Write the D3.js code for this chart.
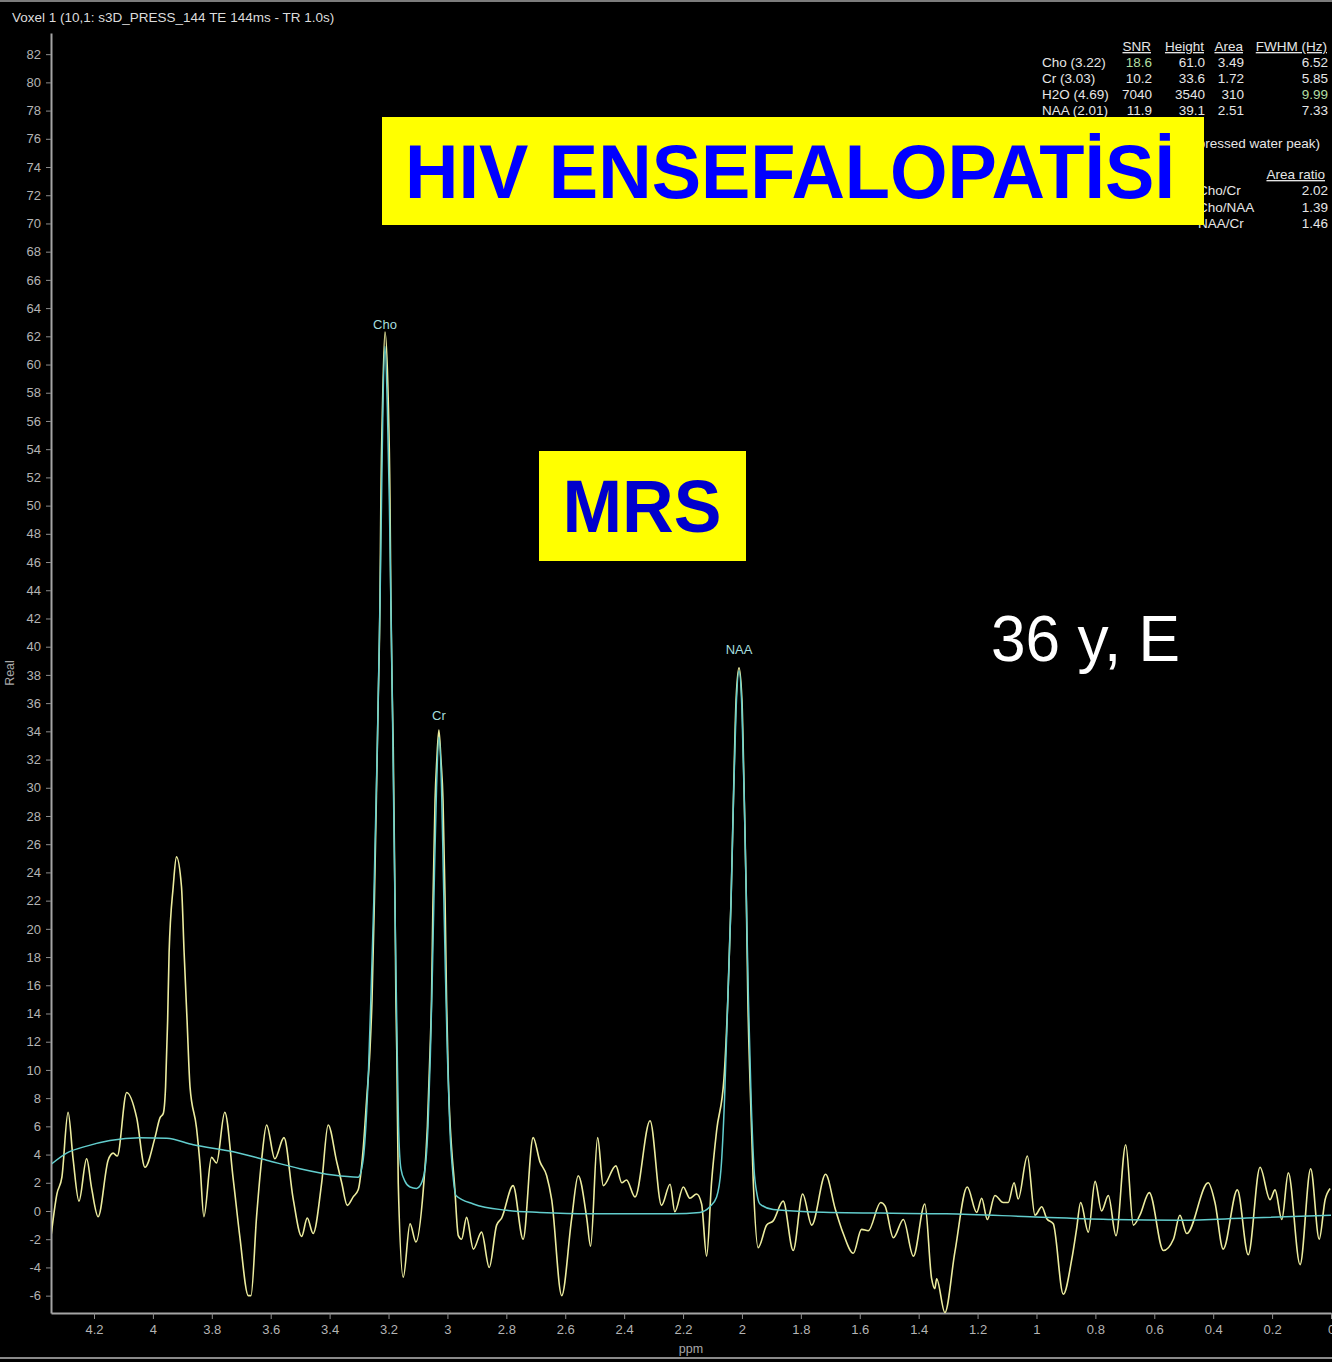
<!DOCTYPE html>
<html>
<head>
<meta charset="utf-8">
<title>HIV ENSEFALOPATİSİ - MRS</title>
<script src="https://cdn.jsdelivr.net/npm/d3@7"></script>
<style>
  html, body { margin: 0; padding: 0; background: #000; }
  svg { display: block; }
</style>
</head>
<body>
<svg id="chart" width="1332" height="1362"></svg>
<script>
// ---- Spectrum data (ppm, real amplitude) ----
const titleText = "Voxel 1 (10,1: s3D_PRESS_144 TE 144ms - TR 1.0s)";

// Acquired spectrum (real part)
const rawSignal = [
  [4.346,-1.8],[4.326,1.2],[4.309,2.4],[4.288,7.0],[4.271,3.7],[4.251,0.7],[4.225,3.7],[4.208,1.6],
  [4.186,-0.4],[4.152,3.6],[4.135,4.1],[4.121,3.9],[4.089,8.4],[4.055,6.6],[4.027,3.1],[3.993,5.2],
  [3.976,6.6],[3.965,6.9],[3.957,8.8],[3.950,13.5],[3.945,18.3],[3.931,23.0],[3.920,25.1],[3.903,23.0],
  [3.894,18.3],[3.884,13.5],[3.874,8.8],[3.852,5.9],[3.840,3.3],[3.827,-0.4],[3.801,3.8],[3.784,3.4],
  [3.756,7.0],[3.727,2.2],[3.705,-1.8],[3.676,-6.0],[3.667,-6.0],[3.648,-0.4],[3.631,3.6],[3.614,6.1],
  [3.586,3.7],[3.555,5.2],[3.524,0.9],[3.495,-1.8],[3.476,-0.5],[3.456,-1.6],[3.427,2.0],[3.405,6.1],
  [3.376,3.5],[3.359,2.0],[3.340,0.4],[3.320,1.0],[3.303,1.5],[3.286,4.4],[3.274,8.0],[3.263,11.4],
  [3.256,15.0],[3.248,22.0],[3.238,32.9],[3.235,36.2],[3.229,43.3],[3.226,50.4],[3.220,57.5],[3.212,62.3],
  [3.201,57.5],[3.195,50.4],[3.192,43.3],[3.187,36.2],[3.184,32.9],[3.178,22.0],[3.175,15.0],[3.172,11.4],
  [3.167,2.0],[3.150,-4.7],[3.127,-0.9],[3.107,-2.2],[3.082,1.5],[3.068,6.0],[3.059,11.4],[3.054,15.0],
  [3.049,22.0],[3.042,29.1],[3.036,32.0],[3.029,34.1],[3.022,32.0],[3.015,29.1],[3.008,22.0],[3.003,15.0],
  [2.997,9.4],[2.975,1.6],[2.963,-1.75],[2.952,-2.0],[2.935,-0.45],[2.912,-2.7],[2.884,-1.5],[2.858,-4.0],
  [2.833,-1.0],[2.816,-0.5],[2.777,1.8],[2.743,-2.0],[2.709,5.2],[2.686,3.5],[2.663,2.5],[2.646,0.8],
  [2.612,-6.0],[2.578,-0.5],[2.556,2.5],[2.527,-0.5],[2.514,-2.5],[2.490,5.2],[2.471,1.8],[2.428,3.2],
  [2.408,2.0],[2.392,2.2],[2.363,1.0],[2.312,6.4],[2.273,0.4],[2.244,1.9],[2.228,-0.05],[2.199,1.7],
  [2.177,0.9],[2.154,1.2],[2.137,0.5],[2.120,-3.2],[2.103,2.1],[2.086,5.7],[2.061,9.4],[2.048,15.0],
  [2.037,22.0],[2.029,29.1],[2.020,36.2],[2.010,38.5],[2.000,36.2],[1.992,29.1],[1.985,22.0],[1.980,15.0],
  [1.973,9.4],[1.962,2.3],[1.945,-2.6],[1.916,-1.0],[1.894,-0.7],[1.860,0.7],[1.826,-2.8],[1.794,1.2],
  [1.763,-1.0],[1.716,2.6],[1.684,0.2],[1.656,-1.6],[1.622,-3.0],[1.594,-1.3],[1.571,-1.4],[1.529,0.6],
  [1.514,0.35],[1.486,-1.9],[1.452,-0.6],[1.418,-3.2],[1.379,0.5],[1.356,-4.8],[1.345,-5.5],[1.339,-4.8],
  [1.311,-7.2],[1.277,-2.9],[1.235,1.7],[1.203,-0.1],[1.186,0.9],[1.167,-0.6],[1.141,1.1],[1.113,0.6],
  [1.096,0.6],[1.076,2.0],[1.062,0.85],[1.031,3.9],[1.005,-0.3],[0.982,0.3],[0.965,-0.55],[0.943,-0.9],
  [0.909,-5.9],[0.880,-3.4],[0.864,-1.3],[0.850,0.6],[0.824,-1.5],[0.801,2.1],[0.779,0.0],[0.756,1.1],
  [0.730,-1.75],[0.697,4.7],[0.671,-1.0],[0.649,-0.3],[0.617,1.3],[0.569,-2.8],[0.535,-2.0],[0.513,-0.3],
  [0.490,-1.6],[0.417,2.0],[0.394,0.6],[0.366,-2.7],[0.318,1.5],[0.281,-3.1],[0.241,3.1],[0.207,0.8],
  [0.190,1.5],[0.167,-0.6],[0.145,2.7],[0.105,-3.8],[0.069,3.0],[0.040,-2.0],[0.020,0.8],[0.003,1.6]
];

// Fitted model (baseline + metabolite peaks)
const fitSignal = [
  [4.346,3.3],[4.293,4.1],[4.225,4.6],[4.146,5.0],[4.044,5.2],[3.953,5.15],[3.863,4.7],[3.727,4.2],
  [3.614,3.6],[3.501,3.0],[3.388,2.55],[3.303,2.4],[3.287,3.5],[3.277,6.0],[3.268,10.0],[3.260,15.0],
  [3.250,22.0],[3.238,33.0],[3.229,43.0],[3.224,50.0],[3.219,57.0],[3.212,61.3],[3.204,57.0],[3.197,50.0],
  [3.192,43.0],[3.187,36.0],[3.182,28.0],[3.177,20.0],[3.171,12.0],[3.166,6.0],[3.158,3.0],[3.144,2.1],
  [3.127,1.7],[3.105,1.6],[3.090,1.9],[3.076,3.0],[3.066,6.0],[3.058,11.0],[3.051,17.0],[3.044,24.0],
  [3.037,30.0],[3.029,33.6],[3.020,30.0],[3.014,24.0],[3.007,17.0],[3.000,11.0],[2.992,6.0],[2.981,2.5],
  [2.971,1.1],[2.912,0.5],[2.799,0.05],[2.686,-0.1],[2.516,-0.2],[2.234,-0.2],[2.143,-0.1],[2.109,0.3],
  [2.086,1.0],[2.071,3.0],[2.059,8.0],[2.048,15.0],[2.037,22.0],[2.029,29.0],[2.020,35.5],[2.010,38.3],
  [2.000,35.5],[1.992,29.0],[1.985,22.0],[1.978,15.0],[1.969,8.0],[1.959,3.0],[1.949,1.2],[1.939,0.5],
  [1.894,0.1],[1.780,-0.05],[1.531,-0.15],[1.305,-0.2],[1.022,-0.4],[0.739,-0.6],[0.513,-0.65],[0.286,-0.5],
  [0.000,-0.3]
];

const peakNames = ["Cho", "Cr", "NAA"];
const peakPpm = [3.212, 3.029, 2.010];

const xTicks = [4.2, 4, 3.8, 3.6, 3.4, 3.2, 3, 2.8, 2.6, 2.4, 2.2, 2, 1.8, 1.6, 1.4, 1.2, 1, 0.8, 0.6, 0.4, 0.2, 0];
const yTicks = [-6, -4, -2, 0, 2, 4, 6, 8, 10, 12, 14, 16, 18, 20, 22, 24, 26, 28, 30, 32, 34, 36, 38, 40,
  42, 44, 46, 48, 50, 52, 54, 56, 58, 60, 62, 64, 66, 68, 70, 72, 74, 76, 78, 80, 82];

// ---- Quantification table ----
const metabolites = ["Cho (3.22)", "Cr (3.03)", "H2O (4.69)", "NAA (2.01)"];
const snrValues = ["18.6", "10.2", "7040", "11.9"];
const heightValues = ["61.0", "33.6", "3540", "39.1"];
const areaValues = ["3.49", "1.72", "310", "2.51"];
const fwhmValues = ["6.52", "5.85", "9.99", "7.33"];
const waterNote = "(unsuppressed water peak)";
const ratioNames = ["Cho/Cr", "Cho/NAA", "NAA/Cr"];
const ratioValues = ["2.02", "1.39", "1.46"];

const mainTitle = "HIV ENSEFALOPATİSİ";
const subTitle = "MRS";
const patientText = "36 y, E";

// ---- Drawing ----
const UI_FONT = '"Liberation Sans", Arial, "DejaVu Sans", sans-serif';
const svg = d3.select("#chart");
const W = 1332, H = 1362;

svg.append("rect").attr("width", W).attr("height", H).attr("fill", "#000");
// window frame lines
svg.append("rect").attr("x", 0).attr("y", 0).attr("width", W).attr("height", 2).attr("fill", "#7c7c7c");
svg.append("rect").attr("x", 0).attr("y", 1357).attr("width", W).attr("height", 2).attr("fill", "#8a8a8a");

const plot = { left: 51, right: 1331, top: 33, bottom: 1313 };

const x = d3.scaleLinear().domain([4.346, 0]).range([plot.left, plot.right]);
const y = d3.scaleLinear().domain([-7.23, 83.5]).range([plot.bottom, plot.top]);

svg.append("text")
  .attr("x", 12).attr("y", 22)
  .attr("fill", "#dcdcdc")
  .attr("font-family", UI_FONT).attr("font-size", 13.5)
  .text(titleText);

// axes
const fmt = d => String(+(+d).toFixed(1));
const yAxis = d3.axisLeft(y).tickValues(yTicks).tickFormat(fmt).tickSize(5).tickSizeOuter(0).tickPadding(5);
const xAxis = d3.axisBottom(x).tickValues(xTicks).tickFormat(fmt).tickSize(6).tickSizeOuter(0).tickPadding(6);

function styleAxis(g) {
  g.attr("font-family", UI_FONT).attr("font-size", 13);
  g.select(".domain").attr("stroke", "#a4a4a4").attr("stroke-width", 2);
  g.selectAll(".tick line").attr("stroke", "#8c8c8c").attr("stroke-width", 1);
  g.selectAll(".tick text").attr("fill", "#b4b4b4");
}

svg.append("g").attr("transform", `translate(${plot.left},0)`).call(yAxis).call(styleAxis);
svg.append("g").attr("transform", `translate(0,${plot.bottom})`).call(xAxis).call(styleAxis);

svg.append("text")
  .attr("transform", `translate(14,${(plot.top + plot.bottom) / 2}) rotate(-90)`)
  .attr("text-anchor", "middle")
  .attr("fill", "#a8a8a8")
  .attr("font-family", UI_FONT).attr("font-size", 12.5)
  .text("Real");

svg.append("text")
  .attr("x", (plot.left + plot.right) / 2).attr("y", 1353)
  .attr("text-anchor", "middle")
  .attr("fill", "#a8a8a8")
  .attr("font-family", UI_FONT).attr("font-size", 12.5)
  .text("ppm");

// spectrum traces
svg.append("clipPath").attr("id", "plot-clip")
  .append("rect").attr("x", plot.left + 1).attr("y", plot.top)
  .attr("width", W - plot.left).attr("height", plot.bottom - plot.top);

const line = d3.line()
  .x(d => x(d[0]))
  .y(d => y(d[1]))
  .curve(d3.curveMonotoneX);

const traces = svg.append("g").attr("clip-path", "url(#plot-clip)");
traces.append("path")
  .datum(rawSignal)
  .attr("d", line)
  .attr("fill", "none")
  .attr("stroke", "#ecec9e")
  .attr("stroke-width", 1.6)
  .attr("stroke-linejoin", "round");
traces.append("path")
  .datum(fitSignal)
  .attr("d", line)
  .attr("fill", "none")
  .attr("stroke", "#62cdcd")
  .attr("stroke-width", 1.5)
  .attr("stroke-linejoin", "round");

// peak labels, placed above the fitted peak maximum
peakNames.forEach((name, i) => {
  const p = peakPpm[i];
  const top = d3.max(fitSignal.filter(d => Math.abs(d[0] - p) < 0.01), d => d[1]);
  svg.append("text")
    .attr("x", x(p)).attr("y", y(top) - 17)
    .attr("text-anchor", "middle")
    .attr("fill", "#a6dede")
    .attr("font-family", UI_FONT).attr("font-size", 13)
    .text(name);
});

// quantification table (top right)
const tableFont = { family: UI_FONT, size: 13.5, color: "#e6e6e6", hi: "#b2dea0" };
const columns = [
  { head: "SNR", values: snrValues, right: 1152, hi: 0 },
  { head: "Height", values: heightValues, right: 1205, hi: -1 },
  { head: "Area", values: areaValues, right: 1244, hi: -1 },
  { head: "FWHM (Hz)", values: fwhmValues, right: 1328, hi: 2 }
];
const table = svg.append("g")
  .attr("font-family", tableFont.family)
  .attr("font-size", tableFont.size)
  .attr("fill", tableFont.color);
const headY = 51, rowStep = 16;
columns.forEach(c => {
  table.append("text").attr("x", c.right - 1).attr("y", headY)
    .attr("text-anchor", "end").style("text-decoration", "underline").text(c.head);
  c.values.forEach((v, i) => {
    table.append("text").attr("x", c.right).attr("y", headY + rowStep * (i + 1))
      .attr("text-anchor", "end")
      .attr("fill", i === c.hi ? tableFont.hi : tableFont.color)
      .text(v);
  });
});
metabolites.forEach((m, i) => {
  table.append("text").attr("x", 1042).attr("y", headY + rowStep * (i + 1)).text(m);
});
table.append("text").attr("x", 1320).attr("y", 148).attr("text-anchor", "end").text(waterNote);
table.append("text").attr("x", 1325).attr("y", 179).attr("text-anchor", "end")
  .style("text-decoration", "underline").text("Area ratio");
ratioNames.forEach((r, i) => {
  const yy = 195 + i * 16.5;
  table.append("text").attr("x", 1198).attr("y", yy).text(r);
  table.append("text").attr("x", 1328).attr("y", yy).attr("text-anchor", "end").text(ratioValues[i]);
});

// captions
svg.append("rect").attr("x", 382).attr("y", 117).attr("width", 822).attr("height", 108).attr("fill", "#ffff00");
svg.append("text")
  .attr("x", 405).attr("y", 198)
  .attr("font-family", UI_FONT).attr("font-weight", "bold").attr("font-size", 76)
  .attr("fill", "#0000ff")
  .attr("textLength", 770).attr("lengthAdjust", "spacingAndGlyphs")
  .text(mainTitle);

svg.append("rect").attr("x", 539).attr("y", 451).attr("width", 207).attr("height", 110).attr("fill", "#ffff00");
svg.append("text")
  .attr("x", 562.5).attr("y", 532)
  .attr("font-family", UI_FONT).attr("font-weight", "bold").attr("font-size", 75)
  .attr("fill", "#0000cc")
  .attr("textLength", 159).attr("lengthAdjust", "spacingAndGlyphs")
  .text(subTitle);

svg.append("text")
  .attr("x", 991).attr("y", 661)
  .attr("font-family", UI_FONT).attr("font-size", 64)
  .attr("fill", "#ffffff")
  .attr("textLength", 189).attr("lengthAdjust", "spacingAndGlyphs")
  .text(patientText);
</script>
</body>
</html>
